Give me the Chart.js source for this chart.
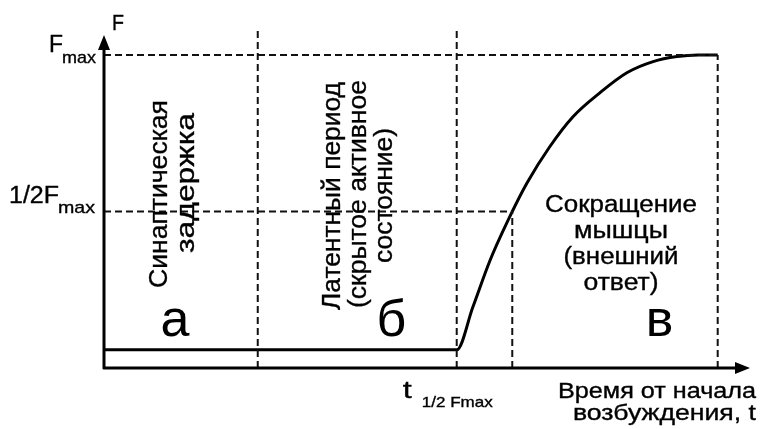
<!DOCTYPE html>
<html>
<head>
<meta charset="utf-8">
<script src="https://cdn.jsdelivr.net/npm/chart.js@4/dist/chart.umd.min.js"></script>
<style>
  html, body { margin: 0; padding: 0; background: #fff; }
  #wrap { width: 764px; height: 429px; }
</style>
</head>
<body>
<div id="wrap"><canvas id="muscleChart"></canvas></div>
<script>
// время (усл. ед.) и сила (доля от Fmax)
const curveT = [0, 54.6, 57.1, 59.8, 63.2, 65.5, 69.0, 72.6, 76.8, 81.0, 85.0, 88.7, 92.0, 95.0];
const curveF = [0.058, 0.058, 0.195, 0.346, 0.5, 0.592, 0.707, 0.803, 0.88, 0.944, 0.979, 0.995, 1.0, 1.0];

const fMax = 1.0;
const fHalf = 0.5;
const tTop = 1.08;
const phaseBorders = [23.8, 54.6];
const tHalf = 63.2;
const tEnd = 95.0;

const phaseLetters = ['а', 'б', 'в'];
const phaseLetterT = [11, 44.5, 86];
const labelSynapse = ['Синаптическая', 'задержка'];
const labelLatent = ['Латентный период', '(скрытое активное', 'состояние)'];
const labelContraction = ['Сокращение', 'мышцы', '(внешний', 'ответ)'];
const labelTime = ['Время от начала', 'возбуждения, t'];

const dashed = { borderColor: '#111', borderWidth: 2, borderDash: [7, 4], pointRadius: 0, fill: false };

const line = (xs, ys) => xs.map((x, i) => ({ x: x, y: ys[i] }));

const datasets = [
    Object.assign({ data: line([0, tEnd], [fMax, fMax]) }, dashed),
    Object.assign({ data: line([0, tHalf], [fHalf, fHalf]) }, dashed),
    Object.assign({ data: line([phaseBorders[0], phaseBorders[0]], [0, tTop]) }, dashed),
    Object.assign({ data: line([phaseBorders[1], phaseBorders[1]], [0, tTop]) }, dashed),
    Object.assign({ data: line([tHalf, tHalf], [0, fHalf]) }, dashed),
    Object.assign({ data: line([tEnd, tEnd], [0, fMax]) }, dashed),
    {
        data: line(curveT, curveF),
        borderColor: '#000',
        borderWidth: 3,
        pointRadius: 0,
        cubicInterpolationMode: 'monotone',
        fill: false
    }
];

const FONT = '"Liberation Sans", Arial, sans-serif';

// текст, растянутый по ширине как на скане; x — левый край
function fitText(ctx, s, x, y, size, width) {
    ctx.font = size + 'px ' + FONT;
    const w = ctx.measureText(s).width;
    ctx.save();
    ctx.translate(x, y);
    ctx.scale(width / w, 1);
    ctx.textAlign = 'left';
    ctx.lineWidth = 0.35;
    ctx.fillText(s, 0, 0);
    ctx.strokeText(s, 0, 0);
    ctx.restore();
}

const diagram = {
    id: 'diagram',
    afterDraw(chart) {
        const ctx = chart.ctx;
        const xs = chart.scales.x, ys = chart.scales.y;
        const x0 = xs.getPixelForValue(0), y0 = ys.getPixelForValue(0);
        const xEnd = xs.getPixelForValue(100), yTip = ys.getPixelForValue(1.064);
        ctx.save();
        ctx.fillStyle = '#000';
        ctx.strokeStyle = '#000';

        // оси
        ctx.lineWidth = 3;
        ctx.beginPath();
        ctx.moveTo(x0, y0 + 1);
        ctx.lineTo(x0, yTip + 10);
        ctx.moveTo(x0 - 1, y0);
        ctx.lineTo(xEnd - 10, y0);
        ctx.stroke();
        ctx.beginPath();
        ctx.moveTo(x0, yTip);
        ctx.lineTo(x0 - 6, yTip + 15);
        ctx.lineTo(x0 + 6, yTip + 15);
        ctx.closePath();
        ctx.moveTo(xEnd, y0);
        ctx.lineTo(xEnd - 15, y0 - 6);
        ctx.lineTo(xEnd - 15, y0 + 6);
        ctx.closePath();
        ctx.fill();

        // подписи осей
        ctx.textBaseline = 'alphabetic';
        const yF = ys.getPixelForValue(fMax), yH = ys.getPixelForValue(fHalf);
        const xT = xs.getPixelForValue(phaseBorders[1]);
        fitText(ctx, 'F', x0 + 8, 30, 22, 12);
        fitText(ctx, 'F', x0 - 55, yF - 3, 23, 14);
        fitText(ctx, 'max', x0 - 42, yF + 8, 17, 34);
        fitText(ctx, '1/2F', x0 - 95, yH - 9, 23, 50);
        fitText(ctx, 'max', x0 - 46, yH + 1, 17, 37);
        fitText(ctx, 't', xT - 54, y0 + 30, 24, 9);
        fitText(ctx, '1/2 Fmax', xT - 35, y0 + 39, 15, 71);
        fitText(ctx, labelTime[0], 558, 398, 22, 198);
        fitText(ctx, labelTime[1], 573, 420, 22, 183);

        // буквы фаз
        ctx.font = '52px ' + FONT;
        ctx.textAlign = 'center';
        phaseLetters.forEach((s, i) => ctx.fillText(s, xs.getPixelForValue(phaseLetterT[i]), 336));

        // вертикальные подписи: [x базовой линии, нижний край, длина]
        const vertical = (lines, pos) => {
            lines.forEach((s, i) => {
                ctx.save();
                ctx.translate(pos[i][0], pos[i][1]);
                ctx.rotate(-Math.PI / 2);
                fitText(ctx, s, 0, 0, 25, pos[i][2]);
                ctx.restore();
            });
        };
        vertical(labelSynapse, [[167, 288, 188], [194, 253, 140]]);
        vertical(labelLatent, [[340, 310, 228], [366, 308, 228], [392, 263, 135]]);

        const contrW = [152, 94, 115, 75];
        labelContraction.forEach((s, i) => fitText(ctx, s, 621 - contrW[i] / 2, 212 + i * 26, 23, contrW[i]));
        ctx.restore();
    }
};

new Chart(document.getElementById('muscleChart'), {
    type: 'line',
    data: { datasets: datasets },
    options: {
        responsive: true,
        maintainAspectRatio: false,
        animation: false,
        layout: { padding: { left: 104, right: 14, top: 30, bottom: 61 } },
        scales: {
            x: { type: 'linear', min: 0, max: 100, display: false },
            y: { type: 'linear', min: 0, max: tTop, display: false }
        },
        plugins: { legend: { display: false }, tooltip: { enabled: false } }
    },
    plugins: [diagram]
});
</script>
</body>
</html>
